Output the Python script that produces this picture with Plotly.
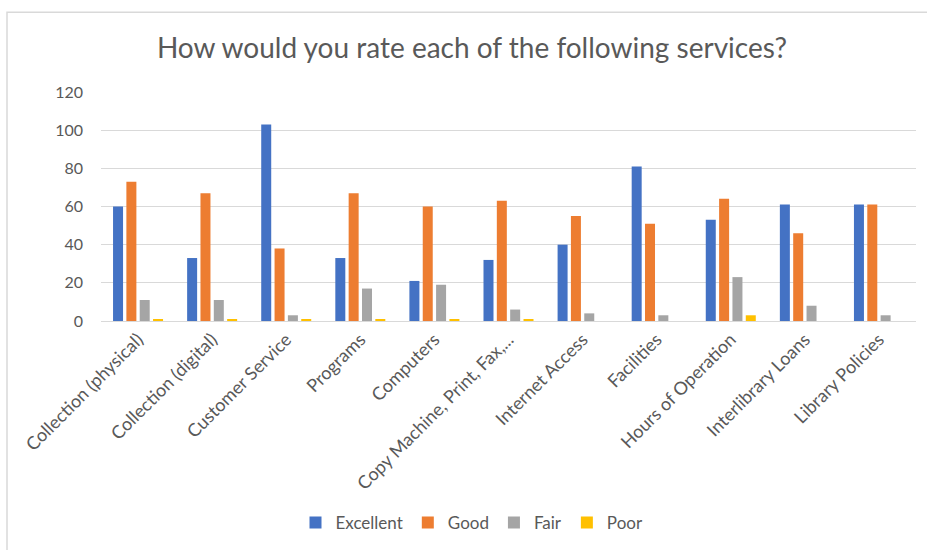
import plotly.graph_objects as go

categories = ["Collection (physical)", "Collection (digital)", "Customer Service", "Programs",
              "Computers", "Copy Machine, Print, Fax,...", "Internet Access", "Facilities",
              "Hours of Operation", "Interlibrary Loans", "Library Policies"]
excellent = [60, 33, 103, 33, 21, 32, 40, 81, 53, 61, 61]
good = [73, 67, 38, 67, 60, 63, 55, 51, 64, 46, 61]
fair = [11, 11, 3, 17, 19, 6, 4, 3, 23, 8, 3]
poor = [1, 1, 1, 1, 1, 1, 0, 0, 3, 0, 0]
y_ticks = [0, 20, 40, 60, 80, 100, 120]

series = [("Excellent", excellent, "#4472C4"), ("Good", good, "#ED7D31"),
          ("Fair", fair, "#A5A5A5"), ("Poor", poor, "#FFC000")]

W, H = 927, 550
L, R, T, B = 101, 11, 92, 228
pw, ph = W - L - R, H - T - B

def px_x(p):
    return (p - L) / pw

def px_y(p):
    return (H - B - p) / ph

fig = go.Figure()
for name, vals, col in series:
    fig.add_trace(go.Bar(x=categories, y=vals, name=name, marker_color=col,
                         marker_line_width=0))

FONT = "Lato"
TXT = "#595959"
fig.update_layout(
    width=W, height=H,
    margin=dict(l=L, r=R, t=T, b=B),
    paper_bgcolor="white", plot_bgcolor="white",
    font=dict(family=FONT, color=TXT, size=16),
    barmode="group", bargap=0.28, bargroupgap=0.25,
    title=dict(text="How would you rate each of the following services?",
               font=dict(family=FONT, size=28, color=TXT),
               x=472 / W, xanchor="center", xref="container",
               y=1 - 48 / H, yanchor="middle", yref="container"),
    xaxis=dict(tickangle=-45, showgrid=False, showline=True, linecolor="#D9D9D9",
               linewidth=1, ticks="", automargin=False,
               tickfont=dict(family=FONT, size=18, color=TXT)),
    yaxis=dict(range=[0, 120], tickvals=y_ticks, showgrid=True, gridcolor="#D9D9D9",
               gridwidth=1, zeroline=False, showline=False, ticks="", automargin=False,
               tickfont=dict(family=FONT, size=16, color=TXT), ticklabelstandoff=17),
    legend=dict(orientation="h", x=px_x(472), xanchor="center", y=px_y(523),
                yanchor="middle", font=dict(family=FONT, size=17, color=TXT),
                itemwidth=30, traceorder="normal"),
    shapes=[dict(type="rect", xref="paper", yref="paper",
                 x0=px_x(7), x1=px_x(960), y0=px_y(600), y1=px_y(12),
                 line=dict(color="#D9D9D9", width=1.5), fillcolor="rgba(0,0,0,0)",
                 layer="below")],
)

fig.write_html("out.html", config={"displayModeBar": False},
               post_script="document.body.style.margin='0';")
